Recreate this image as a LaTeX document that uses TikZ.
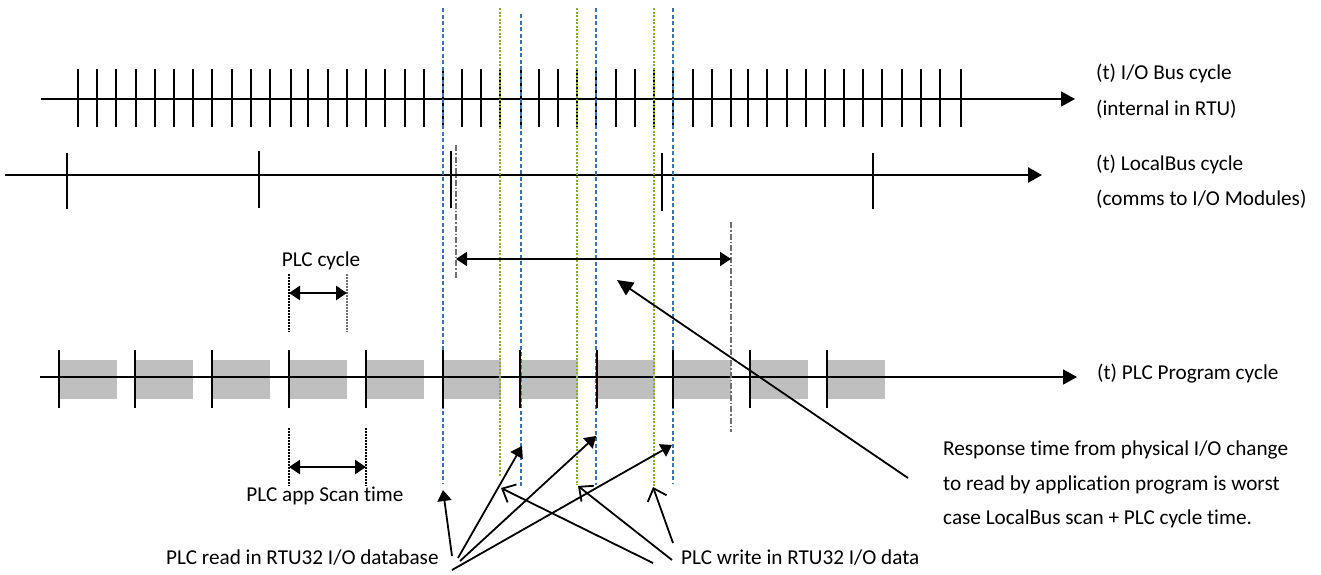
\documentclass[tikz,border=0pt]{standalone}
\usepackage{fontspec}
\setmainfont{Carlito}[RawFeature=-liga]
\usetikzlibrary{arrows.meta}
\definecolor{boxgrey}{HTML}{BFBFBF}
\definecolor{blueline}{HTML}{3F70AE}
\definecolor{greenline}{HTML}{86AC34}
\definecolor{dashgrey}{HTML}{6F6F6F}
\tikzset{
  lbl/.style={inner sep=0pt, font=\fontsize{21.2}{25}\selectfont},
  axisline/.style={line width=1.8pt, -{Triangle[length=14pt,width=15pt]}},
  tickmark/.style={line width=2.2pt},
  bluedash/.style={draw=blueline, line width=1.2pt, dash pattern=on 4pt off 2.5pt},
  greendash/.style={draw=greenline, line width=1.2pt, dash pattern=on 2pt off 1.5pt},
  dashdotline/.style={draw=dashgrey, line width=1.2pt, dash pattern=on 6pt off 2pt on 1.5pt off 2pt},
  dotline/.style={line width=1.1pt, dash pattern=on 1.5pt off 1.5pt},
  dblarrow/.style={line width=2.2pt, {Triangle[length=11pt,width=14pt]}-{Triangle[length=11pt,width=14pt]}},
  readarrow/.style={line width=1.8pt, -{Triangle[length=11pt,width=14pt]}},
  writearrow/.style={line width=1.8pt, -{Straight Barb[length=11pt,width=20pt,line width=1.8pt]}},
  pointarrow/.style={line width=1.8pt, -{Triangle[length=16pt,width=15pt]}}
}
\begin{document}
\begin{tikzpicture}[x=1pt,y=-1pt]
\useasboundingbox (0,0) rectangle (1321,574);

% ---------- axis end points ----------
\coordinate (ioS) at (41,99);   \coordinate (ioE) at (1075,99);
\coordinate (lbS) at (5,175);   \coordinate (lbE) at (1042,175);
\coordinate (plcS) at (40,377); \coordinate (plcE) at (1077,377);

% ---------- I/O bus cycle ----------
\draw[axisline] (ioS) -- (ioE);
\foreach \x in {78,97,116,136,155,174,193,212,232,251,270,291,308,328,347,366,385,405,424,443,462,481,500,521,539,558,577,596,616,635,654,673,693,712,731,748,767,787,806,825,844,863,882,902,921,940,961}
  \draw[tickmark] (\x,69) -- (\x,127);

% ---------- LocalBus cycle ----------
\draw[axisline, line width=2.6pt] (lbS) -- (lbE);
\foreach \x/\a/\b in {67/153/209,259/151/208,451/151/208,662/153/211,873/153/209}
  \draw[tickmark, line width=2.4pt] (\x,\a) -- (\x,\b);

% ---------- PLC program cycle boxes and axis ----------
\foreach \x in {59,135,212,289,366,443,520,597,673,750,827}
  \fill[boxgrey] (\x,360) rectangle ++(58,39);
\draw[axisline] (plcS) -- (plcE);

% ---------- vertical dashed marker lines ----------
\coordinate (b1t) at (443,8);  \coordinate (b1b) at (443,483);
\coordinate (g1t) at (500,8);  \coordinate (g1b) at (500,477);
\coordinate (b2t) at (521,14); \coordinate (b2b) at (521,487);
\coordinate (g2t) at (577,8);  \coordinate (g2b) at (577,485);
\coordinate (b3t) at (596,8);  \coordinate (b3b) at (596,485);
\coordinate (g3t) at (654,8);  \coordinate (g3b) at (654,486);
\coordinate (b4t) at (673,8);  \coordinate (b4b) at (673,483);
\draw[bluedash] (b1t) -- (b1b);
\draw[greendash] (g1t) -- (g1b);
\draw[bluedash] (b2t) -- (b2b);
\draw[greendash] (g2t) -- (g2b);
\draw[bluedash] (b3t) -- (b3b);
\draw[greendash] (g3t) -- (g3b);
\draw[bluedash] (b4t) -- (b4b);

% ---------- PLC program cycle ticks (on top) ----------
\foreach \x in {59,135,212,289,366,443,520,597,673,750,827}
  \draw[tickmark] (\x,350) -- (\x,408);

% ---------- response interval ----------
\coordinate (rLt) at (456,145); \coordinate (rLb) at (456,278);
\coordinate (rRt) at (731,222); \coordinate (rRb) at (731,432);
\draw[dashdotline] (rLt) -- (rLb);
\draw[dashdotline] (rRt) -- (rRb);
\coordinate (rA) at (456,259); \coordinate (rB) at (731,259);
\draw[dblarrow] (rA) -- (rB);

% ---------- PLC cycle ----------
\coordinate (pc1t) at (289,274); \coordinate (pc1b) at (289,332);
\coordinate (pc2t) at (347,274); \coordinate (pc2b) at (347,332);
\draw[dotline] (pc1t) -- (pc1b);
\draw[dotline, draw=dashgrey] (pc2t) -- (pc2b);
\coordinate (pcA) at (289,293); \coordinate (pcB) at (347,293);
\draw[dblarrow, line width=2.6pt] (pcA) -- (pcB);
\node[lbl] (plccyc) at (321,261) {PLC cycle};

% ---------- PLC app scan time ----------
\coordinate (st1t) at (289,428); \coordinate (st1b) at (289,486);
\coordinate (st2t) at (366,428); \coordinate (st2b) at (366,486);
\draw[dotline] (st1t) -- (st1b);
\draw[dotline] (st2t) -- (st2b);
\coordinate (stA) at (289,467); \coordinate (stB) at (366,467);
\draw[dblarrow, line width=2.6pt] (stA) -- (stB);
\node[lbl] (scan) at (325,496) {PLC app Scan time};

% ---------- right-hand labels ----------
\node[lbl, anchor=mid west] (io1) at (1096,77) {(t) I/O Bus cycle};
\node[lbl, anchor=mid west] (io2) at (1096,113) {(internal in RTU)};
\node[lbl, anchor=mid west] (lb1) at (1096,168) {(t) LocalBus cycle};
\node[lbl, anchor=mid west] (lb2) at (1096,203) {(comms to I/O Modules)};
\node[lbl, anchor=mid west] (plc1) at (1097,377) {(t) PLC Program cycle};

% ---------- response text and pointer ----------
\node[lbl, anchor=mid west] (resp1) at (943,453) {Response time from physical I/O change};
\node[lbl, anchor=mid west] (resp2) at (943,488) {to read by application program is worst};
\node[lbl, anchor=mid west] (resp3) at (943,522) {case LocalBus scan + PLC cycle time.};
\coordinate (pTail) at (908,478); \coordinate (pTip) at (617,280);
\draw[pointarrow] (pTail) -- (pTip);

% ---------- read / write labels and arrows ----------
\node[lbl, anchor=mid west] (readtxt) at (166,562) {PLC read in RTU32 I/O database};
\node[lbl, anchor=mid west] (writetxt) at (681,562) {PLC write in RTU32 I/O data};

\coordinate (rt1) at (452,556); \coordinate (rh1) at (443,490);
\coordinate (rt2) at (458,558); \coordinate (rh2) at (522,446);
\coordinate (rt3) at (460,561); \coordinate (rh3) at (596,436);
\coordinate (rt4) at (452,570); \coordinate (rh4) at (672,445);
\draw[readarrow] (rt1) -- (rh1);
\draw[readarrow] (rt2) -- (rh2);
\draw[readarrow] (rt3) -- (rh3);
\draw[readarrow] (rt4) -- (rh4);

\coordinate (wt1) at (653,563); \coordinate (wh1) at (501,488);
\coordinate (wt2) at (672,560); \coordinate (wh2) at (578,486);
\coordinate (wt3) at (673,543); \coordinate (wh3) at (653,487);
\draw[writearrow] (wt1) -- (wh1);
\draw[writearrow] (wt2) -- (wh2);
\draw[writearrow] (wt3) -- (wh3);
\end{tikzpicture}
\end{document}
